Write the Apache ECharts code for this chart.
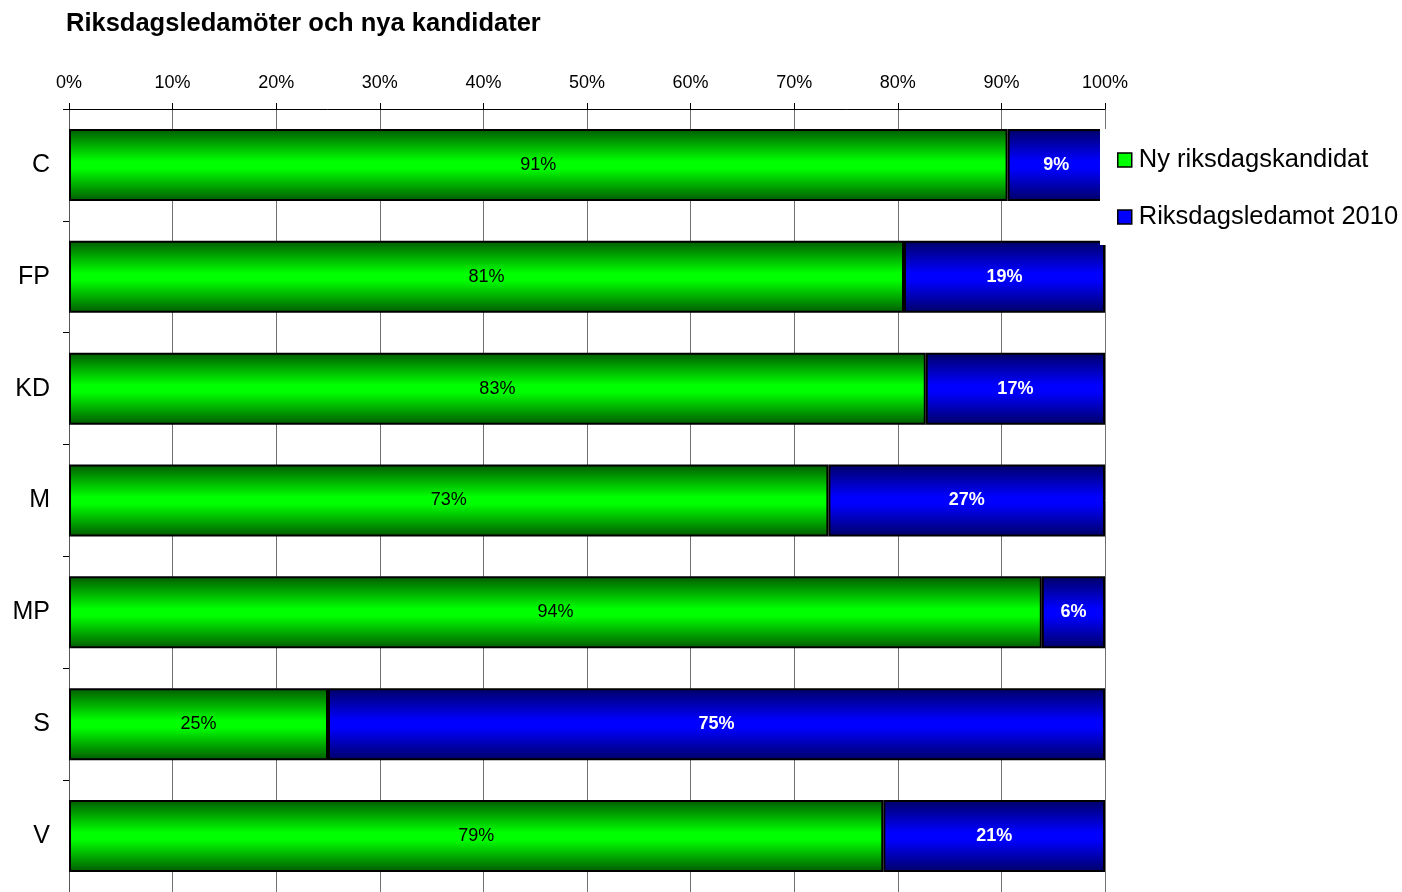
<!DOCTYPE html>
<html>
<head>
<meta charset="utf-8">
<title>Riksdagsledamöter och nya kandidater</title>
<script src="https://cdn.jsdelivr.net/npm/echarts@6/dist/echarts.min.js"></script>
<style>
  html, body { margin: 0; padding: 0; background: #fff; }
  #chart { width: 1402px; height: 892px; }
</style>
</head>
<body>
<div id="chart"></div>
<script>
// partier uppifrån och ned
const parties = ['C', 'FP', 'KD', 'M', 'MP', 'S', 'V']
// andel nya kandidater (%)
const nyKandidat = [90.6, 80.6, 82.7, 73.3, 93.9, 25.0, 78.6]
// andel sittande riksdagsledamöter (%)
const ledamot2010 = [9.4, 19.4, 17.3, 26.7, 6.1, 75.0, 21.4]
const seriesNames = ['Ny riksdagskandidat', 'Riksdagsledamot 2010']

const font = '"Liberation Sans", Arial, sans-serif'

// gradient som i originalet: mörk kant upptill och nedtill, ljus mitt
function band(dark, light) {
  return new echarts.graphic.LinearGradient(0, 0, 0, 1, [
    { offset: 0, color: dark },
    { offset: 0.45, color: light },
    { offset: 0.55, color: light },
    { offset: 1, color: dark }
  ])
}

let myChart = echarts.init(document.getElementById('chart'))
myChart.setOption({
  animation: false,
  backgroundColor: '#fff',
  title: {
    text: 'Riksdagsledamöter och nya kandidater',
    left: 66,
    top: 11,
    padding: 0,
    textStyle: { fontFamily: font, fontSize: 25.5, fontWeight: 'bold', color: '#000' }
  },
  legend: {
    orient: 'vertical',
    left: 1100,
    top: 129,
    padding: [17, 2, 14, 17],
    backgroundColor: '#fff',
    itemWidth: 14,
    itemHeight: 14,
    itemGap: 29,
    icon: 'rect',
    textStyle: { fontFamily: font, fontSize: 25.5, color: '#000', lineHeight: 28, padding: [0, 0, 0, 2] },
    data: [
      { name: seriesNames[0], itemStyle: { color: '#00ff00', borderColor: '#000', borderWidth: 1.5 } },
      { name: seriesNames[1], itemStyle: { color: '#0000ff', borderColor: '#000', borderWidth: 1.5 } }
    ]
  },
  grid: {
    left: 69,
    right: 297,
    top: 109,
    height: 789
  },
  xAxis: {
    type: 'value',
    position: 'top',
    min: 0,
    max: 100,
    interval: 10,
    axisLine: { show: true, lineStyle: { color: '#000', width: 1 } },
    axisTick: { show: true, length: 6, lineStyle: { color: '#000' } },
    axisLabel: { formatter: '{value}%', fontFamily: font, fontSize: 18, color: '#000', margin: 17 },
    splitLine: { show: true, lineStyle: { color: '#707070', width: 1 } }
  },
  yAxis: {
    type: 'category',
    inverse: true,
    data: parties,
    axisLine: { show: true, lineStyle: { color: '#555', width: 1 } },
    axisTick: { show: true, length: 6, interval: 0, lineStyle: { color: '#000' } },
    axisLabel: { fontFamily: font, fontSize: 25, color: '#000', margin: 19 },
    splitLine: { show: false }
  },
  series: [
    {
      name: seriesNames[0],
      type: 'bar',
      stack: 'total',
      barWidth: 72,
      data: nyKandidat,
      itemStyle: { color: band('#005a00', '#00ff00'), borderColor: '#000', borderWidth: 2 },
      label: {
        show: true,
        position: 'inside',
        formatter: p => Math.round(p.value) + '%',
        fontFamily: font,
        fontSize: 18,
        color: '#000'
      }
    },
    {
      name: seriesNames[1],
      type: 'bar',
      stack: 'total',
      barWidth: 72,
      data: ledamot2010,
      itemStyle: { color: band('#000066', '#0000ff'), borderColor: '#000', borderWidth: 2 },
      label: {
        show: true,
        position: 'inside',
        formatter: p => Math.round(p.value) + '%',
        fontFamily: font,
        fontSize: 18,
        fontWeight: 'bold',
        color: '#fff'
      }
    }
  ]
})
</script>
</body>
</html>
